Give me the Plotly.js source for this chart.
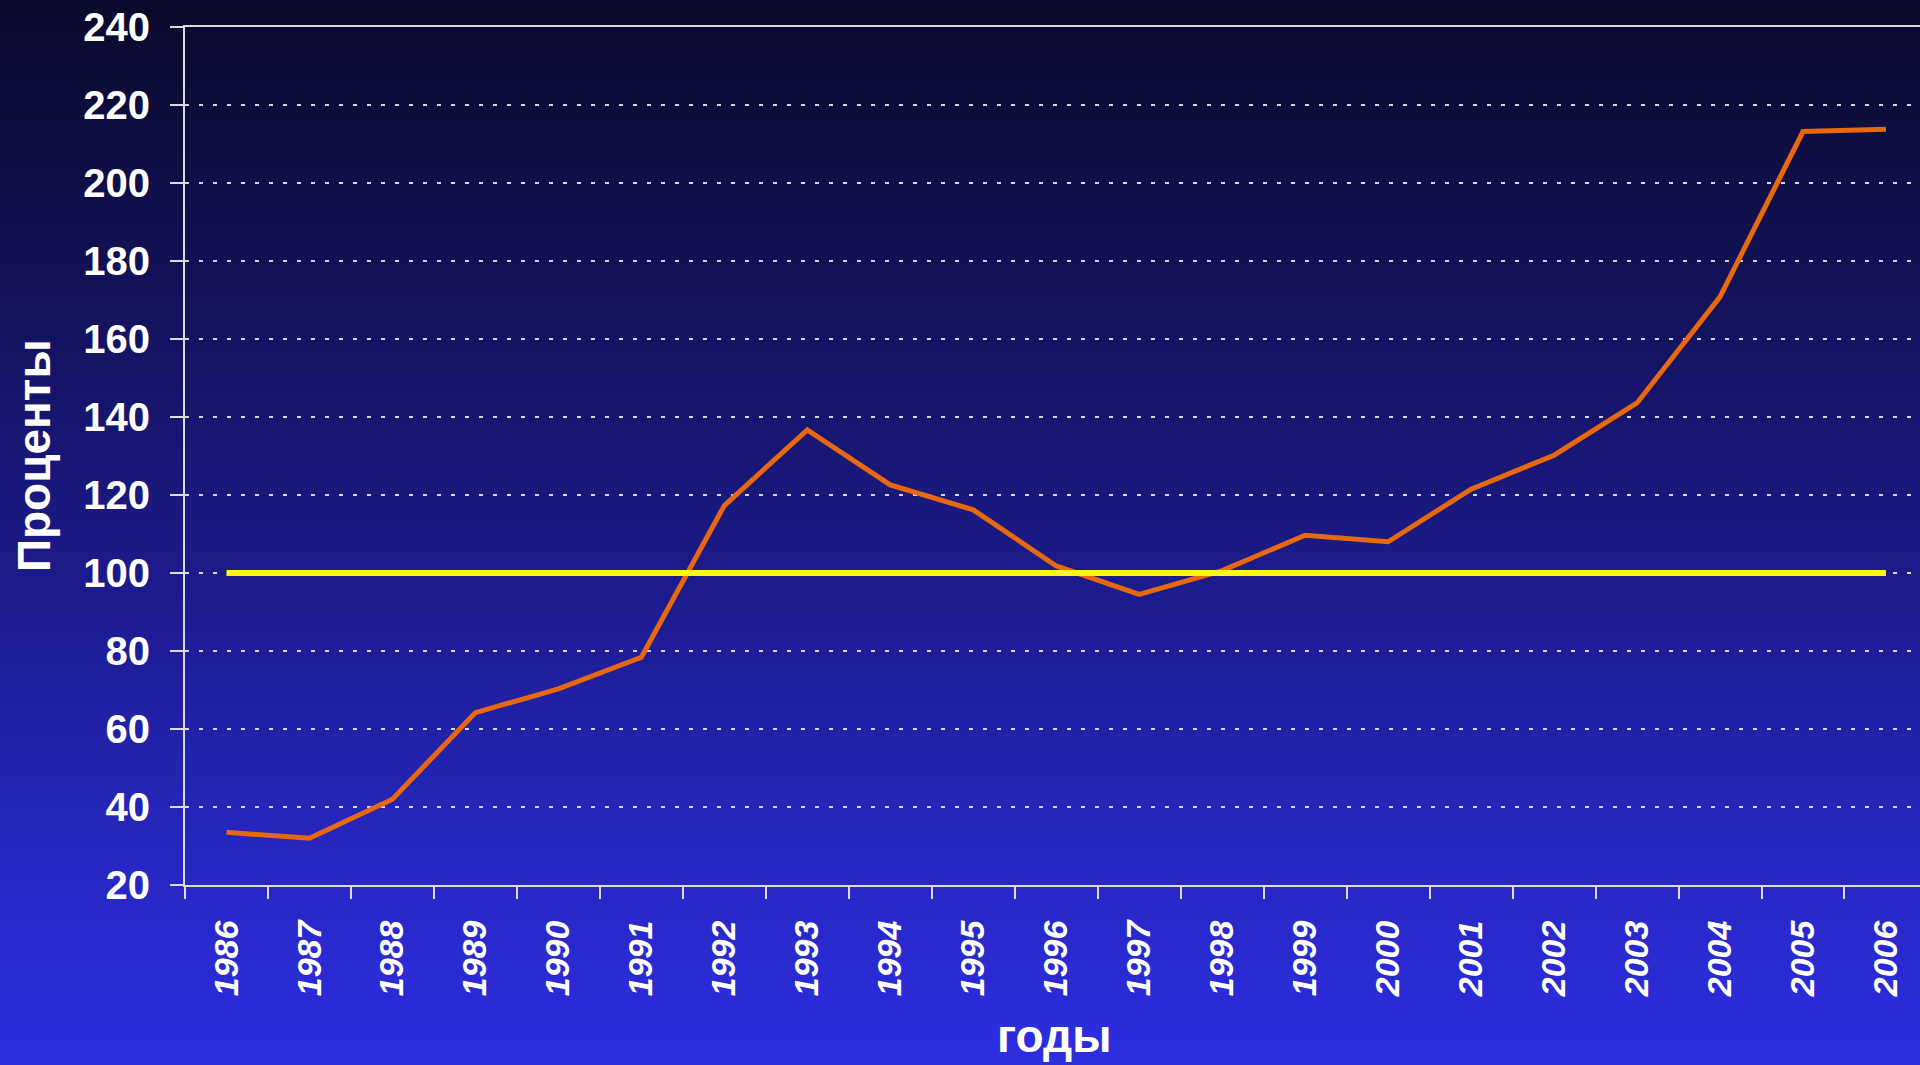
<!DOCTYPE html>
<html>
<head>
<meta charset="utf-8">
<script src="https://cdn.plot.ly/plotly-3.0.1.min.js"></script>
<style>
  html, body { margin: 0; padding: 0; }
  body {
    width: 1920px; height: 1065px; overflow: hidden;
    background: linear-gradient(to bottom, rgb(10,10,44) 0%, rgb(18,17,85) 25%, rgb(28,27,140) 55%, rgb(38,38,192) 80%, rgb(45,46,226) 100%);
  }
  #chart { width: 1920px; height: 1065px; }
</style>
</head>
<body>
<div id="chart"></div>
<script>
const years = ["1986","1987","1988","1989","1990","1991","1992","1993","1994","1995","1996",
               "1997","1998","1999","2000","2001","2002","2003","2004","2005","2006"];
const percentValues = [33.5, 32.0, 42.0, 64.2, 70.3, 78.4, 117.3, 136.7, 122.6, 116.2, 101.8,
                       94.5, 100.6, 109.7, 108.0, 121.5, 130.2, 143.6, 170.8, 213.2, 213.8];
const baselineValues = [100,100,100,100,100,100,100,100,100,100,100,
                        100,100,100,100,100,100,100,100,100,100];
const yTitle = "Проценты";
const xTitle = "годы";

const FONT = '"Liberation Sans", Arial, sans-serif';

const traces = [
  {
    x: years, y: percentValues, type: 'scatter', mode: 'lines',
    line: { color: '#e8680f', width: 5 }, hoverinfo: 'skip'
  },
  {
    x: years, y: baselineValues, type: 'scatter', mode: 'lines',
    line: { color: '#fff51a', width: 6 }, hoverinfo: 'skip'
  }
];

const layout = {
  width: 1920, height: 1065,
  margin: { l: 185, r: 0, t: 27, b: 180, pad: 0 },
  paper_bgcolor: 'rgba(0,0,0,0)',
  plot_bgcolor: 'rgba(0,0,0,0)',
  showlegend: false,
  font: { family: FONT, color: '#ffffff' },
  xaxis: {
    type: 'category',
    range: [-0.5, 20.41],
    tickson: 'boundaries',
    ticks: 'outside', ticklen: 12, tickwidth: 2, tickcolor: '#dcdcdc',
    showline: true, linecolor: '#dcdcdc', linewidth: 2, mirror: true,
    showgrid: false, zeroline: false,
    tickangle: -90,
    ticklabelstandoff: 20,
    tickfont: { family: FONT, size: 34, color: '#ffffff', weight: 'bold', style: 'italic' },
    fixedrange: true
  },
  yaxis: {
    range: [20, 240], tick0: 20, dtick: 20,
    ticks: 'outside', ticklen: 13, tickwidth: 2, tickcolor: '#dcdcdc',
    showline: true, linecolor: '#dcdcdc', linewidth: 2,
    showgrid: true, gridcolor: 'rgba(235,235,235,0.9)', gridwidth: 2, griddash: '4px,10px',
    zeroline: false,
    ticklabelstandoff: 12,
    tickfont: { family: FONT, size: 40, color: '#ffffff', weight: 'bold' },
    fixedrange: true
  },
  annotations: [
    {
      text: yTitle, xref: 'paper', yref: 'paper',
      x: -0.087, y: 0.5, xanchor: 'center', yanchor: 'middle',
      textangle: -90, showarrow: false,
      font: { family: FONT, size: 46, color: '#ffffff', weight: 'bold' }
    },
    {
      text: xTitle, xref: 'paper', yref: 'paper',
      x: 0.501, y: -0.2085, xanchor: 'center', yanchor: 'bottom',
      showarrow: false,
      font: { family: FONT, size: 46, color: '#ffffff', weight: 'bold' }
    }
  ]
};

Plotly.newPlot('chart', traces, layout, { displayModeBar: false, staticPlot: true });
</script>
</body>
</html>
